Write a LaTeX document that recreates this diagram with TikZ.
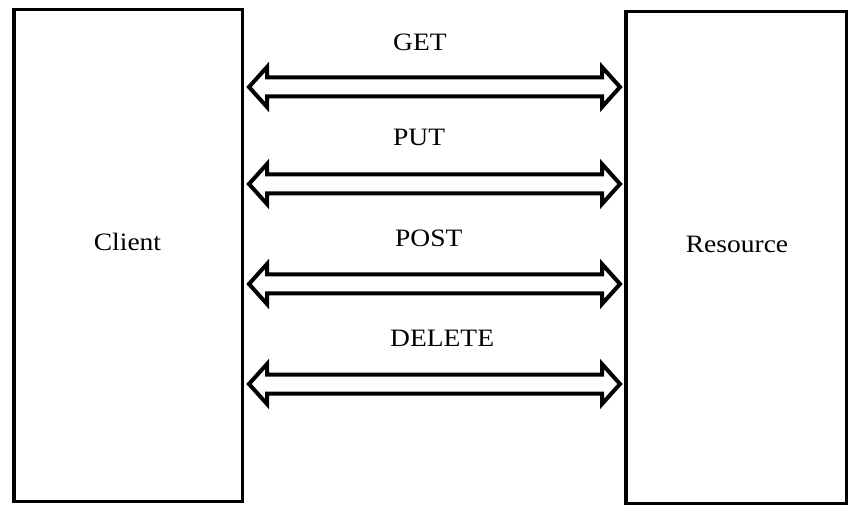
\documentclass[tikz,border=0pt]{standalone}
\usepackage{fontspec}
\setmainfont[FakeStretch=1.1]{Liberation Serif}
\usetikzlibrary{arrows.meta, positioning, calc}
\tikzset{
  box/.style = {draw, line width=3.5pt, inner sep=0pt, minimum height=491.5pt},
  label/.style = {font=\fontsize{25}{30}\selectfont, inner sep=0pt},
  method/.style = {label, anchor=west},
  link/.style = {draw, line width=4pt, line join=miter, fill=white}
}

\begin{document}
\begin{tikzpicture}[x=1pt, y=-1pt]

  \useasboundingbox (0,0) rectangle (859,518);

  % Boxes
  \node[box, minimum width=228.5pt] (client) at (128,255.5) {};
  \node[box, minimum width=220.5pt] (resource) at (736,257.5) {};
  \node[label] (clientlabel) at (127.5,242) {Client};
  \node[label] (resourcelabel) at (737,244) {Resource};

  % Methods
  \node[method] (get) at (393,42) {GET};
  \node[method] (put) at (393,137) {PUT};
  \node[method] (post) at (395,238) {POST};
  \node[method] (delete) at (390,338) {DELETE};

  % Links (hollow double arrows)
  \foreach \m/\y in {get/87, put/184, post/284, delete/384} {
    \coordinate (\m-l) at ($(client.east |- 0,\y)+(5,0)$);
    \coordinate (\m-r) at ($(resource.west |- 0,\y)+(-4,0)$);
    \draw[link] (\m-l) -- ++(18,-20) -- ++(0,10.5)
      -- ($(\m-r)+(-18,-9.5)$) -- ++(0,-10.5) -- (\m-r)
      -- ++(-18,20) -- ++(0,-10.5)
      -- ($(\m-l)+(18,9.5)$) -- ++(0,10.5) -- cycle;
  }

\end{tikzpicture}
\end{document}
